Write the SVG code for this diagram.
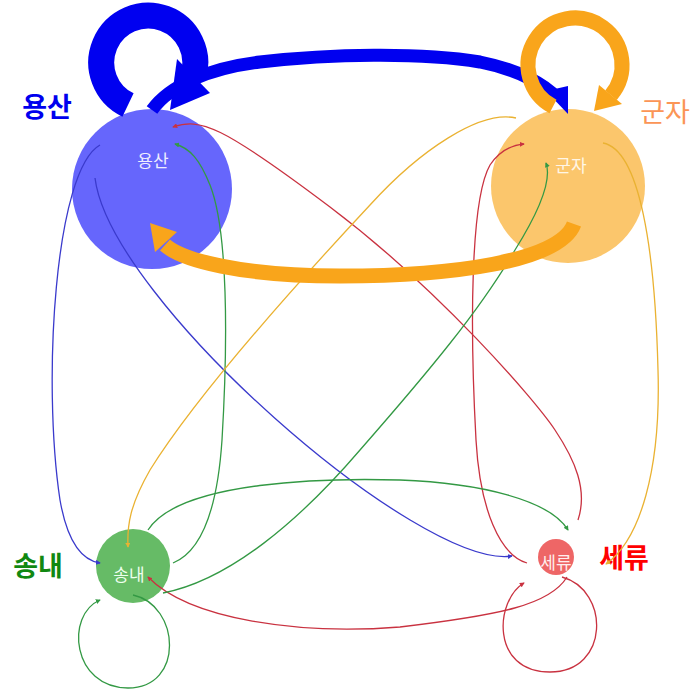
<svg xmlns="http://www.w3.org/2000/svg" width="698" height="691" viewBox="0 0 698 691">
<style>
.outer{font-family:"Noto Sans CJK KR","Noto Sans",sans-serif;font-size:27px;text-anchor:middle}
.inner{font-family:"Noto Sans CJK KR","Noto Sans",sans-serif;font-size:17px;text-anchor:middle}
.thin{fill:none;stroke-width:1.3}
.b{stroke:#3a3acc}.r{stroke:#c93240}.g{stroke:#339944}.o{stroke:#eab232}
</style>
<defs>
<marker id="mb" viewBox="0 0 6 6" refX="5" refY="3" markerWidth="5" markerHeight="5" orient="auto" markerUnits="userSpaceOnUse"><path d="M0,0L6,3L0,6z" fill="#3a3acc"/></marker>
<marker id="mr" viewBox="0 0 6 6" refX="5" refY="3" markerWidth="5" markerHeight="5" orient="auto" markerUnits="userSpaceOnUse"><path d="M0,0L6,3L0,6z" fill="#c93240"/></marker>
<marker id="mg" viewBox="0 0 6 6" refX="5" refY="3" markerWidth="5" markerHeight="5" orient="auto" markerUnits="userSpaceOnUse"><path d="M0,0L6,3L0,6z" fill="#339944"/></marker>
<marker id="mo" viewBox="0 0 6 6" refX="5" refY="3" markerWidth="5" markerHeight="5" orient="auto" markerUnits="userSpaceOnUse"><path d="M0,0L6,3L0,6z" fill="#eab232"/></marker>
</defs>
<rect width="698" height="691" fill="#ffffff"/>
<g id="node-yongsan">
<circle cx="152" cy="189" r="80" fill="#6666fc"/>
<text class="inner" x="153" y="167" fill="#eeeeff">용산</text>
<text class="outer" x="47" y="117" fill="#0000ee" font-weight="bold">용산</text>
</g>
<g id="node-gunja">
<circle cx="568" cy="186" r="77" fill="#fbc66c"/>
<text class="inner" x="571" y="172" fill="#fff6e6">군자</text>
<text class="outer" x="665" y="122" fill="#fb9556">군자</text>
</g>
<g id="node-songnae">
<circle cx="133" cy="566" r="37" fill="#66bb66"/>
<text class="inner" x="129" y="581" fill="#eeffee">송내</text>
<text class="outer" x="38" y="576" fill="#118811" font-weight="bold">송내</text>
</g>
<g id="node-seryu">
<circle cx="556" cy="557" r="18" fill="#ee6666"/>
<text class="inner" x="556" y="569" fill="#ffeeee" font-size="16">세류</text>
<text class="outer" x="624" y="568" fill="#ff0000" font-weight="bold">세류</text>
</g>
<g id="connectors">
<!-- thin edges -->
<path class="thin b" d="M100,145 C55,170 42,380 60,500 C67,540 80,560 100,563" marker-end="url(#mb)"/>
<path class="thin b" d="M95,178 C110,300 420,570 512,556" marker-end="url(#mb)"/>
<path class="thin r" d="M578,520 C588,490 575,460 555,430 S440,290 330,207 S200,118 173,127" marker-end="url(#mr)"/>
<path class="thin r" d="M527,563 C500,555 480,510 476,440 C470,330 470,200 490,165 C500,150 512,145 524,144" marker-end="url(#mr)"/>
<path class="thin r" d="M567,577 C550,605 500,615 400,627 C300,635 190,620 148,577" marker-end="url(#mr)"/>
<path class="thin r" d="M562,577 C610,590 610,672 550,672 C490,672 495,600 524,583" marker-end="url(#mr)"/>
<path class="thin g" d="M173,563 C205,550 218,500 222,440 C228,340 228,230 210,185 C200,160 190,148 175,144" marker-end="url(#mg)"/>
<path class="thin g" d="M163,593 C230,580 300,520 360,450 C430,370 480,310 515,250 C540,210 552,180 546,163" marker-end="url(#mg)"/>
<path class="thin g" d="M148,530 C180,480 330,478 400,480 C480,483 550,500 568,530" marker-end="url(#mg)"/>
<path class="thin g" d="M133,595 C180,605 185,688 128,688 C72,688 65,615 100,600" marker-end="url(#mg)"/>
<path class="thin o" d="M516,118 C480,110 420,150 370,205 C300,280 200,390 150,470 C130,505 127,525 128,547" marker-end="url(#mo)"/>
<path class="thin o" d="M603,143 C640,150 655,250 658,370 C661,470 640,540 606,564" marker-end="url(#mo)"/>
<!-- thick blue -->
<path d="M128,105 A47,47 0 1 1 193,77" fill="none" stroke="#0000f0" stroke-width="26"/>
<polygon points="177,59 210,93 170,110" fill="#0000f0"/>
<path d="M152,110 C170,85 210,68 260,62 C330,54 420,52 480,62 C520,70 545,85 557,98" fill="none" stroke="#0000f0" stroke-width="13"/>
<polygon points="546,91 568,86 568,114" fill="#0000f0"/>
<!-- thick orange -->
<path d="M553,106.5 A47,47 0 1 1 611,95.2" fill="none" stroke="#f9a51b" stroke-width="15"/>
<polygon points="622,104 599,85 594,111" fill="#f9a51b"/>
<path d="M574,224 C560,262 450,276 340,276 C240,276 182,260 165,245" fill="none" stroke="#f9a51b" stroke-width="15"/>
<polygon points="150,223 177,232 155,252" fill="#f9a51b"/>
</g>
</svg>
